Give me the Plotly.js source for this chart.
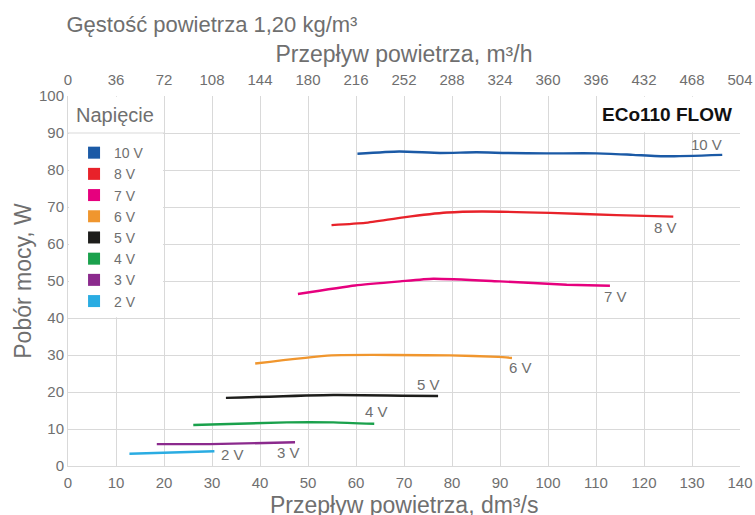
<!DOCTYPE html>
<html>
<head>
<meta charset="utf-8">
<script src="https://cdn.plot.ly/plotly-3.0.1.min.js"></script>
<style>html,body{margin:0;padding:0;background:#fff}#chart{width:755px;height:515px}</style>
</head>
<body>
<div id="chart"></div>
<script>
// ---- data ----
const seriesNames = ['10 V', '8 V', '7 V', '6 V', '5 V', '4 V', '3 V', '2 V'];
const seriesColors = ['#1b5aa6', '#e8222a', '#e6007e', '#f0962e', '#1d1d1b', '#1aa14c', '#8b2a8d', '#2aace2'];

const flow10 = [60.3, 69.0, 77.5, 85.1, 91.4, 99.7, 110.1, 117.7, 124.7, 136.3];
const power10 = [84.4, 85.0, 84.6, 84.8, 84.6, 84.5, 84.5, 84.1, 83.7, 84.1];

const flow8 = [54.9, 61.9, 69.9, 78.9, 86.2, 100.4, 114.3, 126.1];
const power8 = [65.1, 65.7, 67.2, 68.5, 68.8, 68.4, 67.8, 67.4];

const flow7 = [47.9, 59.8, 69.2, 76.1, 90.0, 103.9, 112.9];
const power7 = [46.5, 48.8, 49.9, 50.6, 49.9, 49.0, 48.7];

const flow6 = [39.0, 54.9, 79.6, 89.7, 92.5];
const power6 = [27.7, 29.9, 29.9, 29.5, 29.2];

const flow5 = [32.9, 55.3, 77.1];
const power5 = [18.4, 19.2, 18.9];

const flow4 = [26.1, 45.6, 55.3, 63.8];
const power4 = [11.1, 11.8, 11.8, 11.4];

const flow3 = [18.5, 29.6, 47.3];
const power3 = [5.9, 5.9, 6.4];

const flow2 = [12.8, 30.5];
const power2 = [3.3, 4.0];

const flows = [flow10, flow8, flow7, flow6, flow5, flow4, flow3, flow2];
const powers = [power10, power8, power7, power6, power5, power4, power3, power2];

// end-of-line label anchors
const labelX = [133.0, 124.5, 114.0, 94.3, 75.2, 64.3, 45.9, 34.2];
const labelY = [86.9, 64.4, 45.9, 26.6, 22.1, 14.6, 3.6, 3.0];

const bottomTicks = [0, 10, 20, 30, 40, 50, 60, 70, 80, 90, 100, 110, 120, 130, 140];
const topTicks = [0, 36, 72, 108, 144, 180, 216, 252, 288, 324, 360, 396, 432, 468, 504];
const yTicks = [0, 10, 20, 30, 40, 50, 60, 70, 80, 90, 100];

// ---- chart ----
const FONT = 'Liberation Sans, Arial, sans-serif';
const GRAY = '#6f6f6f';
const GRID = '#d9d9d9';

const traces = [];
for (let i = 0; i < seriesNames.length; i++) {
  traces.push({
    type: 'scatter', mode: 'lines',
    x: flows[i], y: powers[i],
    line: {color: seriesColors[i], width: 2.4, shape: 'spline', smoothing: 0.5},
    showlegend: false, hoverinfo: 'skip'
  });
}
for (let i = 0; i < seriesNames.length; i++) {
  traces.push({
    type: 'bar', x: [null], y: [null], name: seriesNames[i],
    marker: {color: seriesColors[i]}, showlegend: true, hoverinfo: 'skip'
  });
}

const annotations = seriesNames.map((n, i) => ({
  x: labelX[i], y: labelY[i], xref: 'x', yref: 'y', text: n, showarrow: false,
  font: {family: FONT, size: 15, color: GRAY}
}));
annotations.push({
  x: 1, y: 95, xref: 'paper', yref: 'y', xanchor: 'right', text: '<b>ECo110 FLOW</b>',
  showarrow: false, xshift: -6, font: {family: FONT, size: 19, color: '#111'}
});
annotations.push({
  x: 1.3, y: 94.9, xref: 'x', yref: 'y', xanchor: 'left', text: 'Napięcie',
  showarrow: false, font: {family: FONT, size: 20, color: GRAY}
});
annotations.push({
  x: 0.5, y: 0, xref: 'paper', yref: 'paper', xanchor: 'center', yanchor: 'middle', yshift: -39,
  text: 'Przepływ powietrza, dm³/s', showarrow: false, font: {family: FONT, size: 23, color: GRAY}
});

const shapes = [
  {type: 'rect', xref: 'x', yref: 'y', x0: 0.2, x1: 19.8, y0: 40.2, y1: 99.8, fillcolor: '#fff', line: {width: 0}, layer: 'between'},
  {type: 'rect', xref: 'x', yref: 'y', x0: 110.25, x1: 139.8, y0: 90.2, y1: 99.8, fillcolor: '#fff', line: {width: 0}, layer: 'between'},
  {type: 'line', xref: 'x', yref: 'y', x0: 0, x1: 20, y0: 90, y1: 90, line: {color: GRID, width: 1}, layer: 'between'}
];

const layout = {
  width: 755, height: 515,
  margin: {l: 68, r: 15, t: 96, b: 49},
  paper_bgcolor: '#fff', plot_bgcolor: '#fff',
  font: {family: FONT, color: GRAY, size: 14},
  title: {text: 'Gęstość powietrza 1,20 kg/m³', x: 0.088, xanchor: 'left', y: 0.953, yanchor: 'middle',
          font: {family: FONT, size: 22, color: GRAY}},
  showlegend: true,
  legend: {x: 0.009, y: 0.889, xanchor: 'left', yanchor: 'top', bgcolor: 'rgba(0,0,0,0)',
           font: {family: FONT, size: 14, color: GRAY}, tracegroupgap: 0, itemwidth: 30},
  xaxis: {range: [0, 140], tickvals: bottomTicks, ticktext: bottomTicks.map(String),
          showgrid: true, gridcolor: GRID, gridwidth: 1, zeroline: false,
          showline: true, linecolor: GRID, ticks: '', tickfont: {size: 15, color: GRAY},
          ticklabelstandoff: 3, fixedrange: true},
  xaxis2: {range: [0, 504], tickvals: topTicks, ticktext: topTicks.map(String),
           overlaying: 'x', side: 'top', anchor: 'y', showgrid: false, zeroline: false,
           showline: false, ticks: '', tickfont: {size: 15, color: GRAY},
           ticklabelstandoff: 7,
           title: {text: 'Przepływ powietrza, m³/h', font: {size: 23, color: GRAY}, standoff: 1}},
  yaxis: {range: [0, 100], tickvals: yTicks, ticktext: yTicks.map(String),
          showgrid: true, gridcolor: GRID, gridwidth: 1, zeroline: false,
          showline: true, linecolor: GRID, ticks: '', tickfont: {size: 15, color: GRAY},
          title: {text: 'Pobór mocy, W', font: {size: 23, color: GRAY}, standoff: 0}},
  annotations: annotations,
  shapes: shapes
};

// invisible anchor so the top axis is drawn
traces.push({type: 'scatter', mode: 'markers', x: [null], y: [null], xaxis: 'x2', yaxis: 'y',
             showlegend: false, hoverinfo: 'skip'});

Plotly.newPlot('chart', traces, layout, {displayModeBar: false, staticPlot: true});
</script>
</body>
</html>
